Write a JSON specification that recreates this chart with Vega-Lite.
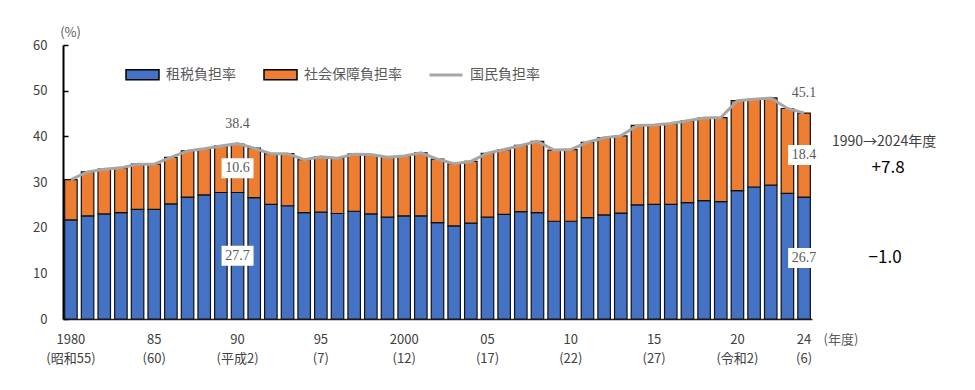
{
  "$schema": "https://vega.github.io/schema/vega-lite/v6.json",
  "width": 749,
  "height": 274,
  "autosize": "none",
  "padding": {"left": 63, "top": 45, "right": 163, "bottom": 71},
  "background": "white",
  "config": {
    "view": {"stroke": null},
    "font": "Noto Sans CJK JP",
    "axis": {"labelFont": "Noto Sans CJK JP", "titleFont": "Noto Sans CJK JP"},
    "legend": {"labelFont": "Noto Sans CJK JP"}
  },
  "data": {
    "values": [
      {"year": 1980, "租税負担率": 21.7, "社会保障負担率": 8.8, "国民負担率": 30.5},
      {"year": 1981, "租税負担率": 22.6, "社会保障負担率": 9.6, "国民負担率": 32.2},
      {"year": 1982, "租税負担率": 23.0, "社会保障負担率": 9.8, "国民負担率": 32.8},
      {"year": 1983, "租税負担率": 23.3, "社会保障負担率": 9.8, "国民負担率": 33.1},
      {"year": 1984, "租税負担率": 24.0, "社会保障負担率": 9.9, "国民負担率": 33.9},
      {"year": 1985, "租税負担率": 24.0, "社会保障負担率": 9.9, "国民負担率": 33.9},
      {"year": 1986, "租税負担率": 25.2, "社会保障負担率": 10.2, "国民負担率": 35.4},
      {"year": 1987, "租税負担率": 26.7, "社会保障負担率": 10.1, "国民負担率": 36.8},
      {"year": 1988, "租税負担率": 27.2, "社会保障負担率": 10.1, "国民負担率": 37.3},
      {"year": 1989, "租税負担率": 27.7, "社会保障負担率": 10.2, "国民負担率": 37.9},
      {"year": 1990, "租税負担率": 27.7, "社会保障負担率": 10.6, "国民負担率": 38.4},
      {"year": 1991, "租税負担率": 26.6, "社会保障負担率": 10.8, "国民負担率": 37.4},
      {"year": 1992, "租税負担率": 25.1, "社会保障負担率": 11.1, "国民負担率": 36.2},
      {"year": 1993, "租税負担率": 24.8, "社会保障負担率": 11.4, "国民負担率": 36.2},
      {"year": 1994, "租税負担率": 23.3, "社会保障負担率": 11.6, "国民負担率": 34.9},
      {"year": 1995, "租税負担率": 23.4, "社会保障負担率": 12.1, "国民負担率": 35.5},
      {"year": 1996, "租税負担率": 23.1, "社会保障負担率": 12.1, "国民負担率": 35.2},
      {"year": 1997, "租税負担率": 23.6, "社会保障負担率": 12.5, "国民負担率": 36.1},
      {"year": 1998, "租税負担率": 23.0, "社会保障負担率": 13.0, "国民負担率": 36.0},
      {"year": 1999, "租税負担率": 22.3, "社会保障負担率": 13.1, "国民負担率": 35.4},
      {"year": 2000, "租税負担率": 22.6, "社会保障負担率": 13.1, "国民負担率": 35.7},
      {"year": 2001, "租税負担率": 22.6, "社会保障負担率": 13.8, "国民負担率": 36.4},
      {"year": 2002, "租税負担率": 21.1, "社会保障負担率": 13.9, "国民負担率": 35.0},
      {"year": 2003, "租税負担率": 20.4, "社会保障負担率": 13.6, "国民負担率": 34.0},
      {"year": 2004, "租税負担率": 21.0, "社会保障負担率": 13.5, "国民負担率": 34.5},
      {"year": 2005, "租税負担率": 22.3, "社会保障負担率": 14.0, "国民負担率": 36.3},
      {"year": 2006, "租税負担率": 22.9, "社会保障負担率": 14.2, "国民負担率": 37.1},
      {"year": 2007, "租税負担率": 23.5, "社会保障負担率": 14.5, "国民負担率": 38.0},
      {"year": 2008, "租税負担率": 23.3, "社会保障負担率": 15.6, "国民負担率": 38.9},
      {"year": 2009, "租税負担率": 21.4, "社会保障負担率": 15.6, "国民負担率": 37.0},
      {"year": 2010, "租税負担率": 21.4, "社会保障負担率": 15.7, "国民負担率": 37.1},
      {"year": 2011, "租税負担率": 22.2, "社会保障負担率": 16.5, "国民負担率": 38.7},
      {"year": 2012, "租税負担率": 22.8, "社会保障負担率": 16.9, "国民負担率": 39.7},
      {"year": 2013, "租税負担率": 23.2, "社会保障負担率": 16.9, "国民負担率": 40.1},
      {"year": 2014, "租税負担率": 25.0, "社会保障負担率": 17.4, "国民負担率": 42.4},
      {"year": 2015, "租税負担率": 25.1, "社会保障負担率": 17.4, "国民負担率": 42.5},
      {"year": 2016, "租税負担率": 25.1, "社会保障負担率": 17.7, "国民負担率": 42.8},
      {"year": 2017, "租税負担率": 25.5, "社会保障負担率": 17.9, "国民負担率": 43.4},
      {"year": 2018, "租税負担率": 25.9, "社会保障負担率": 18.1, "国民負担率": 44.0},
      {"year": 2019, "租税負担率": 25.7, "社会保障負担率": 18.4, "国民負担率": 44.1},
      {"year": 2020, "租税負担率": 28.1, "社会保障負担率": 19.7, "国民負担率": 47.8},
      {"year": 2021, "租税負担率": 28.9, "社会保障負担率": 19.2, "国民負担率": 48.1},
      {"year": 2022, "租税負担率": 29.3, "社会保障負担率": 19.1, "国民負担率": 48.4},
      {"year": 2023, "租税負担率": 27.5, "社会保障負担率": 18.6, "国民負担率": 46.1},
      {"year": 2024, "租税負担率": 26.7, "社会保障負担率": 18.4, "国民負担率": 45.1}
    ]
  },
  "layer": [
    {
      "transform": [{"fold": ["租税負担率", "社会保障負担率"], "as": ["series", "value"]}],
      "mark": {"type": "bar", "stroke": "#111111", "strokeWidth": 1.2},
      "encoding": {
        "x": {
          "field": "year",
          "type": "ordinal",
          "scale": {"paddingInner": 0.25, "paddingOuter": 0.1},
          "axis": {
            "values": [1980, 1985, 1990, 1995, 2000, 2005, 2010, 2015, 2020, 2024],
            "labelExpr": "datum.value == 1980 ? ['1980', '(昭和55)'] : datum.value == 1985 ? ['85', '(60)'] : datum.value == 1990 ? ['90', '(平成2)'] : datum.value == 1995 ? ['95', '(7)'] : datum.value == 2000 ? ['2000', '(12)'] : datum.value == 2005 ? ['05', '(17)'] : datum.value == 2010 ? ['10', '(22)'] : datum.value == 2015 ? ['15', '(27)'] : datum.value == 2020 ? ['20', '(令和2)'] : ['24', '(6)']",
            "labelAngle": 0,
            "labelOverlap": false,
            "labelFontSize": 13,
            "labelColor": "#404040",
            "labelLineHeight": 19,
            "labelPadding": 14,
            "labelBaseline": "top",
            "ticks": false,
            "domainColor": "#222222",
            "domainWidth": 1.5,
            "title": "(年度)",
            "titleFontSize": 13,
            "titleFontWeight": "normal",
            "titleColor": "#595959",
            "titleAnchor": "start",
            "titleAlign": "left",
            "titleBaseline": "middle",
            "titleX": 760,
            "titleY": 20
          }
        },
        "y": {
          "field": "value",
          "type": "quantitative",
          "stack": "zero",
          "scale": {"domain": [0, 60], "nice": false},
          "axis": {
            "values": [0, 10, 20, 30, 40, 50, 60],
            "grid": false,
            "domainColor": "#000000",
            "domainWidth": 2,
            "tickColor": "#000000",
            "tickWidth": 1.5,
            "tickSize": -5,
            "labelFontSize": 13,
            "labelColor": "#404040",
            "labelPadding": 21,
            "title": "(%)",
            "titleAngle": 0,
            "titleFontSize": 13,
            "titleFontWeight": "normal",
            "titleColor": "#595959",
            "titleAlign": "center",
            "titleBaseline": "middle",
            "titleX": 7,
            "titleY": -13
          }
        },
        "fill": {
          "field": "series",
          "type": "nominal",
          "scale": {"domain": ["租税負担率", "社会保障負担率"], "range": ["#4472c4", "#ed7d31"]},
          "legend": {
            "title": null,
            "orient": "none",
            "legendX": 62,
            "legendY": 12,
            "direction": "horizontal",
            "symbolType": "M-1,-0.3H1V0.3H-1Z",
            "symbolSize": 1089,
            "symbolStrokeColor": "#000000",
            "symbolStrokeWidth": 1.5,
            "symbolOpacity": 1,
            "labelFontSize": 14,
            "labelColor": "#595959",
            "labelOffset": 6,
            "columnPadding": 25
          }
        },
        "order": {"field": "series", "sort": "descending"}
      }
    },
    {
      "mark": {"type": "line", "strokeWidth": 3},
      "encoding": {
        "x": {"field": "year", "type": "ordinal"},
        "y": {"field": "国民負担率", "type": "quantitative"},
        "stroke": {
          "datum": "国民負担率",
          "type": "nominal",
          "scale": {"range": ["#a6a6a6"]},
          "legend": {
            "title": null,
            "orient": "none",
            "legendX": 365,
            "legendY": 12,
            "symbolType": "stroke",
            "symbolSize": 1089,
            "symbolStrokeWidth": 3,
            "labelFontSize": 14,
            "labelColor": "#595959",
            "labelOffset": 6
          }
        }
      }
    },
    {
      "transform": [
        {"filter": "datum.year == 1990 || datum.year == 2024"},
        {"fold": ["租税負担率", "社会保障負担率"], "as": ["series", "value"]},
        {"stack": "value", "groupby": ["year"], "sort": [{"field": "series", "order": "descending"}], "as": ["v0", "v1"]},
        {"fold": ["v0", "v1"], "as": ["edge", "pos"]}
      ],
      "layer": [
        {
          "mark": {"type": "point", "shape": "M-1,-0.625H1V0.625H-1Z", "size": 1024, "filled": true, "fill": "#ffffff", "opacity": 1, "strokeWidth": 0},
          "encoding": {
            "x": {"field": "year", "type": "ordinal"},
            "y": {"field": "pos", "aggregate": "mean", "type": "quantitative"},
            "detail": {"field": "series", "type": "nominal"}
          }
        },
        {
          "mark": {"type": "text", "font": "Liberation Serif", "fontSize": 14, "color": "#595959", "baseline": "middle", "align": "center"},
          "encoding": {
            "x": {"field": "year", "type": "ordinal"},
            "y": {"field": "pos", "aggregate": "mean", "type": "quantitative"},
            "detail": {"field": "series", "type": "nominal"},
            "text": {"field": "value", "type": "quantitative", "format": ".1f"}
          }
        }
      ]
    },
    {
      "transform": [{"filter": "datum.year == 1990 || datum.year == 2024"}],
      "mark": {"type": "text", "font": "Liberation Serif", "fontSize": 14, "color": "#595959", "baseline": "middle", "align": "center", "dy": -20},
      "encoding": {
        "x": {"field": "year", "type": "ordinal"},
        "y": {"field": "国民負担率", "type": "quantitative"},
        "text": {"field": "国民負担率", "type": "quantitative", "format": ".1f"}
      }
    },
    {
      "data": {"values": [{}]},
      "mark": {"type": "text", "text": "1990→2024年度", "font": "Noto Sans CJK JP", "fontSize": 14, "color": "#404040", "baseline": "middle", "align": "center", "dx": 80},
      "encoding": {
        "x": {"datum": 2024, "type": "ordinal"},
        "y": {"datum": 38.8, "type": "quantitative"}
      }
    },
    {
      "data": {"values": [{}]},
      "mark": {"type": "text", "text": "+7.8", "font": "Noto Sans CJK JP", "fontSize": 17, "color": "#000000", "baseline": "middle", "align": "center", "dx": 84},
      "encoding": {
        "x": {"datum": 2024, "type": "ordinal"},
        "y": {"datum": 33.1, "type": "quantitative"}
      }
    },
    {
      "data": {"values": [{}]},
      "mark": {"type": "text", "text": "−1.0", "font": "Noto Sans CJK JP", "fontSize": 17, "color": "#000000", "baseline": "middle", "align": "center", "dx": 81},
      "encoding": {
        "x": {"datum": 2024, "type": "ordinal"},
        "y": {"datum": 13.4, "type": "quantitative"}
      }
    }
  ]
}
